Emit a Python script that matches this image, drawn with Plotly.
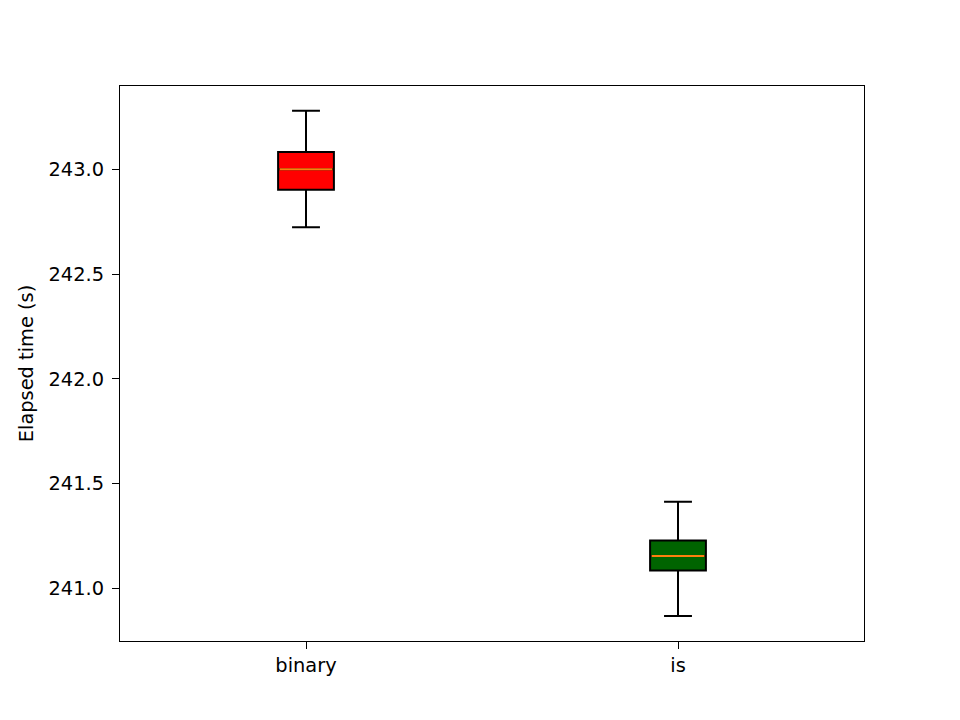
import plotly.graph_objects as go

categories = ["binary", "is"]
positions = [1, 2]
lower_whisker = [242.725, 240.866]
q1_values = [242.904, 241.084]
medians = [243.002, 241.153]
q3_values = [243.085, 241.227]
upper_whisker = [243.282, 241.413]
fill_colors = ["#ff0000", "#006400"]

box_width = 0.15

fig = go.Figure()
for i, name in enumerate(categories):
    fig.add_trace(go.Box(
        x=[positions[i]],
        q1=[q1_values[i]], median=[medians[i]], q3=[q3_values[i]],
        lowerfence=[lower_whisker[i]], upperfence=[upper_whisker[i]],
        width=box_width, whiskerwidth=0.5,
        fillcolor=fill_colors[i],
        line=dict(color="black", width=2),
        name=name, showlegend=False, boxpoints=False,
    ))
    fig.add_trace(go.Scatter(
        x=[positions[i] - box_width / 2 + 0.004, positions[i] + box_width / 2 - 0.004],
        y=[medians[i], medians[i]],
        mode="lines", line=dict(color="#ff7f0e", width=2),
        showlegend=False, hoverinfo="skip",
    ))

font = dict(family="DejaVu Sans", size=19.4, color="black")
# page body has an 8px default margin, so margins are offset to place the axes
fig.update_layout(
    width=960, height=720,
    margin=dict(l=112, r=104, t=78.4, b=87.2),
    plot_bgcolor="white", paper_bgcolor="white",
    font=font,
    xaxis=dict(
        range=[0.5, 2.5], tickvals=positions, ticktext=categories,
        showgrid=False, zeroline=False,
        showline=True, mirror=True, linecolor="black", linewidth=1.3,
        ticks="outside", ticklen=7, tickwidth=1.3, tickcolor="black",
        tickfont=font,
    ),
    yaxis=dict(
        range=[240.747, 243.400], tickvals=[241.0, 241.5, 242.0, 242.5, 243.0],
        ticktext=["241.0", "241.5", "242.0", "242.5", "243.0"],
        showgrid=False, zeroline=False,
        showline=True, mirror=True, linecolor="black", linewidth=1.3,
        ticks="outside", ticklen=7, tickwidth=1.3, tickcolor="black",
        ticklabelstandoff=4,
        tickfont=font,
        title=dict(text="Elapsed time (s)", font=font, standoff=9),
    ),
)

fig.write_html("out.html")
